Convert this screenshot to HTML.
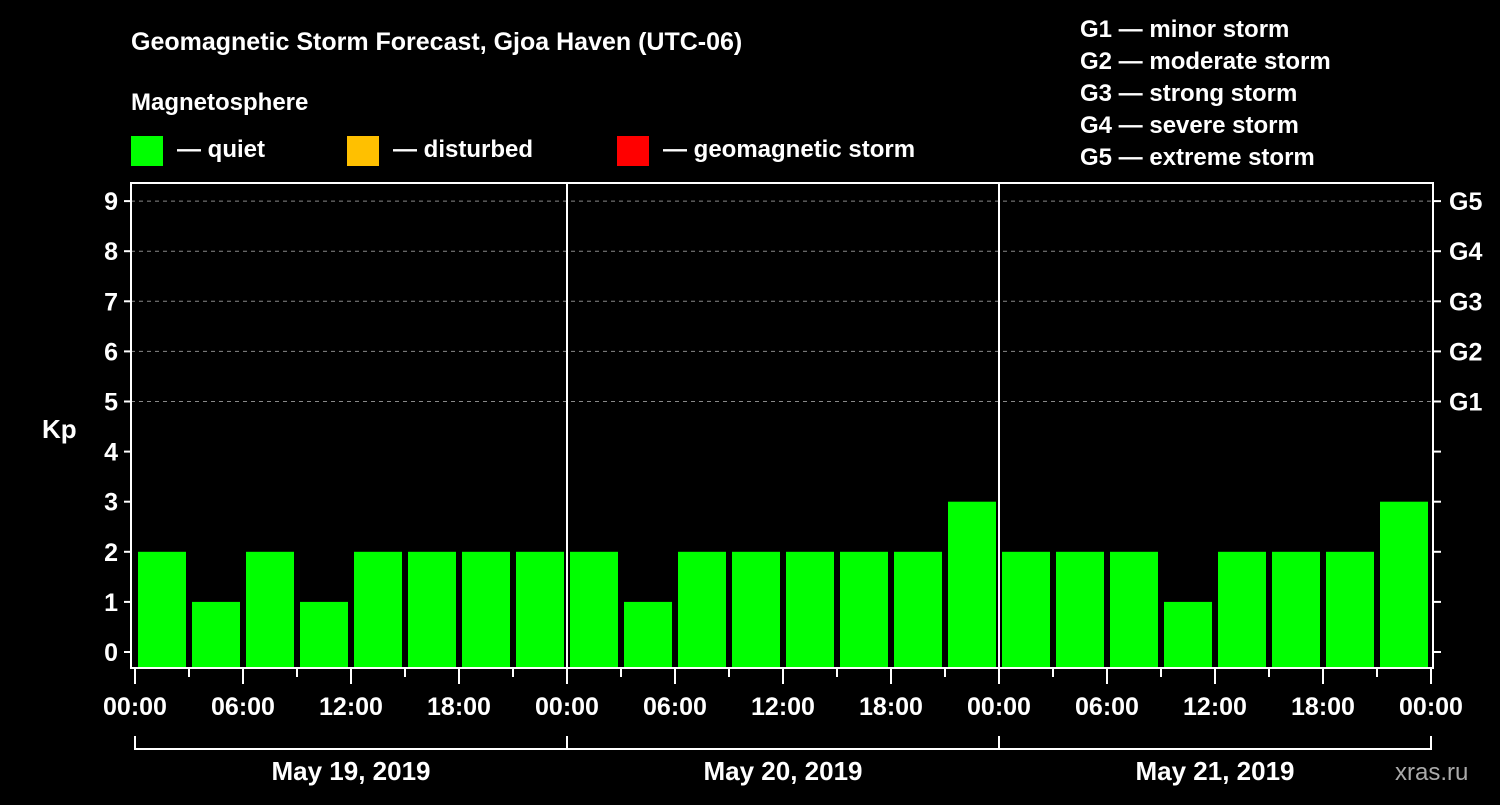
<!DOCTYPE html>
<html><head><meta charset="utf-8"><style>
body{margin:0;background:#000;width:1500px;height:800px;overflow:hidden}
svg text{font-family:"Liberation Sans",Arial,sans-serif;font-weight:bold;fill:#fff}
</style></head><body>
<svg id="c" width="1500" height="800" xmlns="http://www.w3.org/2000/svg">
<text x="131" y="50" font-size="25">Geomagnetic Storm Forecast, Gjoa Haven (UTC-06)</text>
<text x="131" y="110" font-size="24">Magnetosphere</text>
<g><rect x="131" y="136" width="32" height="30" fill="#00ff00"/><text x="177" y="157" font-size="24">— quiet</text></g>
<g><rect x="347" y="136" width="32" height="30" fill="#ffc000"/><text x="393" y="157" font-size="24">— disturbed</text></g>
<g><rect x="617" y="136" width="32" height="30" fill="#ff0000"/><text x="663" y="157" font-size="24">— geomagnetic storm</text></g>
<g font-size="24">
<text x="1080" y="37">G1 — minor storm</text><text x="1080" y="69">G2 — moderate storm</text><text x="1080" y="101">G3 — strong storm</text><text x="1080" y="133">G4 — severe storm</text><text x="1080" y="165">G5 — extreme storm</text></g>
<text x="42" y="438" font-size="26">Kp</text>
<text x="1395" y="780" font-size="24" fill="#aaa" style="fill:#aaa;font-weight:normal">xras.ru</text>
<g id="grid"></g><g id="bars"></g><g id="axes"></g>
</svg>
<script>
const kpValues=[2,1,2,1,2,2,2,2, 2,1,2,2,2,2,2,3, 2,2,2,1,2,2,2,3];
const dayLabels=["May 19, 2019","May 20, 2019","May 21, 2019"];
const yTicks=[0,1,2,3,4,5,6,7,8,9];
const gLabels=["G1","G2","G3","G4","G5"];
const xTickLabels=["00:00","06:00","12:00","18:00"];
const NS="http://www.w3.org/2000/svg";
const X0=135,X1=1431,PL=131,PR=1433,PT=183,PB=668,Y0=652,YU=50.1;
const nSlots=kpValues.length,slot=(X1-X0)/nSlots;
const xs=h=>X0+(X1-X0)*h/(nSlots*3);
const ys=v=>Y0-v*YU;
function mk(t,a,p){const e=document.createElementNS(NS,t);for(const k in a)e.setAttribute(k,a[k]);p.appendChild(e);return e;}
const grid=document.getElementById('grid'),bars=document.getElementById('bars'),axes=document.getElementById('axes');
yTicks.forEach(v=>{
 if(v>=5){const l=mk('line',{x1:PL,x2:PR,y1:ys(v),y2:ys(v),stroke:'#888','stroke-dasharray':'4,4','stroke-width':1},grid);
 
 }
 const t=mk('line',{x1:PL-7,x2:PL,y1:ys(v),y2:ys(v),stroke:'#fff','stroke-width':2},axes);
 
 
 const r=mk('line',{x1:PR,x2:PR+8,y1:ys(v),y2:ys(v),stroke:'#fff','stroke-width':2},axes);
 
 
 const tx=mk('text',{x:PL-13,y:ys(v)+9,'font-size':25,'text-anchor':'end'},axes);tx.textContent=v;
 
 
});
gLabels.forEach((g,i)=>{const tx=mk('text',{x:PR+16,y:ys(5+i)+9,'font-size':25},axes);tx.textContent=g;
 
 });
kpValues.forEach((v,i)=>{
 const c=v>=5?'#ff0000':(v>=4?'#ffc000':'#00ff00');
 const r=mk('rect',{x:X0+i*slot+3,y:ys(v),width:slot-6,height:PB-1-ys(v),fill:c},bars);
 
 
});
mk('rect',{x:PL,y:PT,width:PR-PL,height:PB-PT,fill:'none',stroke:'#fff','stroke-width':2},axes);
for(let d=1;d<dayLabels.length;d++){const x=xs(d*24);mk('line',{x1:x,x2:x,y1:PT,y2:PB,stroke:'#fff','stroke-width':2},axes);}
for(let h=0;h<=dayLabels.length*24;h+=3){
 const x=xs(h),maj=h%6==0;
 mk('line',{x1:x,x2:x,y1:PB,y2:PB+(maj?16:9),stroke:'#fff','stroke-width':2},axes);
 if(maj){const tx=mk('text',{x:x,y:715,'font-size':25,'text-anchor':'middle'},axes);tx.textContent=xTickLabels[(h/6)%4];
 
 }
}
mk('line',{x1:xs(0),x2:xs(dayLabels.length*24),y1:749,y2:749,stroke:'#fff','stroke-width':2},axes);
dayLabels.forEach((d,i)=>{
 mk('line',{x1:xs(i*24),x2:xs(i*24),y1:736,y2:750,stroke:'#fff','stroke-width':2},axes);
 const tx=mk('text',{x:xs(i*24+12),y:780,'font-size':26,'text-anchor':'middle'},axes);tx.textContent=d;
 
 
});
mk('line',{x1:xs(72),x2:xs(72),y1:736,y2:750,stroke:'#fff','stroke-width':2},axes);
</script>
</body></html>
